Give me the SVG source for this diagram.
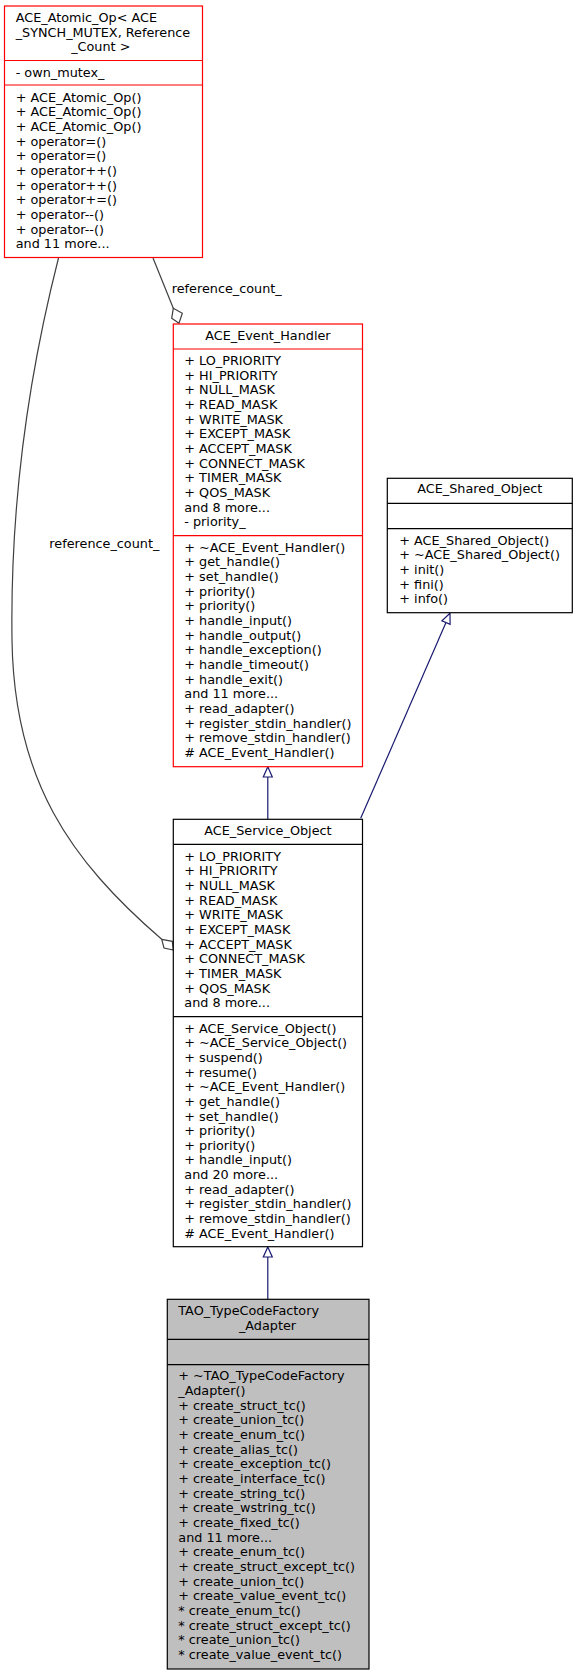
<svg xmlns="http://www.w3.org/2000/svg" width="577" height="1675" viewBox="0 0 577 1675">
<style>
text{font-family:"DejaVu Sans",sans-serif;font-size:12.8px;fill:#000}
.c{text-anchor:middle}
.red{fill:#fff;stroke:#ff0000;stroke-width:1.2}
.blk{fill:#fff;stroke:#000;stroke-width:1.2}
.gry{fill:#bfbfbf;stroke:#000;stroke-width:1.2}
.sepr{stroke:#ff0000;stroke-width:1.2}
.sepk{stroke:#000;stroke-width:1.2}
.inh{fill:none;stroke:#191970;stroke-width:1.2}
.inhh{fill:#fff;stroke:#191970;stroke-width:1.2}
.agg{fill:none;stroke:#404040;stroke-width:1.2}
.aggh{fill:#fff;stroke:#404040;stroke-width:1.2}
</style>
<rect width="577" height="1675" fill="#fff"/>
<g id="edges">
<path class="agg" d="M58.5,258 C30,370 10,500 12,640 C14,780 70,860 161.7,939.3"/>
<polygon class="aggh" points="161.7,939.3 172.3,941.3 173.3,950 164,948"/>
<text x="49.3" y="548.3">reference_count_</text>
<path class="agg" d="M153,258 L173.3,308.3"/>
<polygon class="aggh" points="173.3,308.3 182.3,313.3 179,323.3 171.7,318.3"/>
<text x="171.7" y="293.3">reference_count_</text>
<path class="inh" d="M267.8,777 L267.8,819"/>
<polygon class="inhh" points="267.8,766.7 263.3,777 272.3,777"/>
<path class="inh" d="M360.7,818.3 L446,622.5"/>
<polygon class="inhh" points="450,613.3 441.9,620.7 450.1,624.3"/>
<path class="inh" d="M267.8,1257 L267.8,1299"/>
<polygon class="inhh" points="267.8,1247 263.3,1257 272.3,1257"/>
</g>
<g id="node_atomic_op">
<rect class="red" x="4.5" y="6" width="198" height="251.5"/>
<line class="sepr" x1="4.5" y1="60.5" x2="202.5" y2="60.5"/>
<line class="sepr" x1="4.5" y1="85" x2="202.5" y2="85"/>
<text x="15.7" y="22">ACE_Atomic_Op&lt; ACE</text>
<text x="15.7" y="36.7">_SYNCH_MUTEX, Reference</text>
<text x="100.8" y="51.3" class="c">_Count &gt;</text>
<text x="15.7" y="77.3">- own_mutex_</text>
<text x="15.7" y="101.7">+ ACE_Atomic_Op()</text>
<text x="15.7" y="116.4">+ ACE_Atomic_Op()</text>
<text x="15.7" y="131">+ ACE_Atomic_Op()</text>
<text x="15.7" y="145.7">+ operator=()</text>
<text x="15.7" y="160.3">+ operator=()</text>
<text x="15.7" y="175">+ operator++()</text>
<text x="15.7" y="189.7">+ operator++()</text>
<text x="15.7" y="204.3">+ operator+=()</text>
<text x="15.7" y="219">+ operator--()</text>
<text x="15.7" y="233.6">+ operator--()</text>
<text x="15.7" y="248.3">and 11 more...</text>
</g>
<g id="node_event_handler">
<rect class="red" x="173.3" y="324" width="189.2" height="442.7"/>
<line class="sepr" x1="173.3" y1="349" x2="362.5" y2="349"/>
<line class="sepr" x1="173.3" y1="535.7" x2="362.5" y2="535.7"/>
<text x="267.9" y="340" class="c">ACE_Event_Handler</text>
<text x="184.3" y="365">+ LO_PRIORITY</text>
<text x="184.3" y="379.7">+ HI_PRIORITY</text>
<text x="184.3" y="394.3">+ NULL_MASK</text>
<text x="184.3" y="409">+ READ_MASK</text>
<text x="184.3" y="423.6">+ WRITE_MASK</text>
<text x="184.3" y="438.3">+ EXCEPT_MASK</text>
<text x="184.3" y="453">+ ACCEPT_MASK</text>
<text x="184.3" y="467.6">+ CONNECT_MASK</text>
<text x="184.3" y="482.3">+ TIMER_MASK</text>
<text x="184.3" y="496.9">+ QOS_MASK</text>
<text x="184.3" y="511.6">and 8 more...</text>
<text x="184.3" y="526.3">- priority_</text>
<text x="184.3" y="551.7">+ ~ACE_Event_Handler()</text>
<text x="184.3" y="566.4">+ get_handle()</text>
<text x="184.3" y="581">+ set_handle()</text>
<text x="184.3" y="595.7">+ priority()</text>
<text x="184.3" y="610.3">+ priority()</text>
<text x="184.3" y="625">+ handle_input()</text>
<text x="184.3" y="639.7">+ handle_output()</text>
<text x="184.3" y="654.3">+ handle_exception()</text>
<text x="184.3" y="669">+ handle_timeout()</text>
<text x="184.3" y="683.6">+ handle_exit()</text>
<text x="184.3" y="698.3">and 11 more...</text>
<text x="184.3" y="713">+ read_adapter()</text>
<text x="184.3" y="727.6">+ register_stdin_handler()</text>
<text x="184.3" y="742.3">+ remove_stdin_handler()</text>
<text x="184.3" y="756.9"># ACE_Event_Handler()</text>
</g>
<g id="node_shared_object">
<rect class="blk" x="387.3" y="478.3" width="185" height="134.4"/>
<line class="sepk" x1="387.3" y1="503.3" x2="572.3" y2="503.3"/>
<line class="sepk" x1="387.3" y1="528.7" x2="572.3" y2="528.7"/>
<text x="479.8" y="493.3" class="c">ACE_Shared_Object</text>
<text x="399.3" y="544.5">+ ACE_Shared_Object()</text>
<text x="399.3" y="559.2">+ ~ACE_Shared_Object()</text>
<text x="399.3" y="573.8">+ init()</text>
<text x="399.3" y="588.5">+ fini()</text>
<text x="399.3" y="603.1">+ info()</text>
</g>
<g id="node_service_object">
<rect class="blk" x="173.3" y="819.3" width="189.2" height="427.4"/>
<line class="sepk" x1="173.3" y1="844.3" x2="362.5" y2="844.3"/>
<line class="sepk" x1="173.3" y1="1016.7" x2="362.5" y2="1016.7"/>
<text x="267.9" y="835.3" class="c">ACE_Service_Object</text>
<text x="184.3" y="860.7">+ LO_PRIORITY</text>
<text x="184.3" y="875.4">+ HI_PRIORITY</text>
<text x="184.3" y="890">+ NULL_MASK</text>
<text x="184.3" y="904.7">+ READ_MASK</text>
<text x="184.3" y="919.3">+ WRITE_MASK</text>
<text x="184.3" y="934">+ EXCEPT_MASK</text>
<text x="184.3" y="948.7">+ ACCEPT_MASK</text>
<text x="184.3" y="963.3">+ CONNECT_MASK</text>
<text x="184.3" y="978">+ TIMER_MASK</text>
<text x="184.3" y="992.6">+ QOS_MASK</text>
<text x="184.3" y="1007.3">and 8 more...</text>
<text x="184.3" y="1032.5">+ ACE_Service_Object()</text>
<text x="184.3" y="1047.2">+ ~ACE_Service_Object()</text>
<text x="184.3" y="1061.8">+ suspend()</text>
<text x="184.3" y="1076.5">+ resume()</text>
<text x="184.3" y="1091.1">+ ~ACE_Event_Handler()</text>
<text x="184.3" y="1105.8">+ get_handle()</text>
<text x="184.3" y="1120.5">+ set_handle()</text>
<text x="184.3" y="1135.1">+ priority()</text>
<text x="184.3" y="1149.8">+ priority()</text>
<text x="184.3" y="1164.4">+ handle_input()</text>
<text x="184.3" y="1179.1">and 20 more...</text>
<text x="184.3" y="1193.8">+ read_adapter()</text>
<text x="184.3" y="1208.4">+ register_stdin_handler()</text>
<text x="184.3" y="1223.1">+ remove_stdin_handler()</text>
<text x="184.3" y="1237.7"># ACE_Event_Handler()</text>
</g>
<g id="node_tao_typecodefactory_adapter">
<rect class="gry" x="167.3" y="1299.3" width="201.7" height="369.7"/>
<line class="sepk" x1="167.3" y1="1339.3" x2="369" y2="1339.3"/>
<line class="sepk" x1="167.3" y1="1364.7" x2="369" y2="1364.7"/>
<text x="178.3" y="1315">TAO_TypeCodeFactory</text>
<text x="267.5" y="1329.7" class="c">_Adapter</text>
<text x="178.3" y="1380.3">+ ~TAO_TypeCodeFactory</text>
<text x="178.3" y="1395">_Adapter()</text>
<text x="178.3" y="1409.6">+ create_struct_tc()</text>
<text x="178.3" y="1424.3">+ create_union_tc()</text>
<text x="178.3" y="1438.9">+ create_enum_tc()</text>
<text x="178.3" y="1453.6">+ create_alias_tc()</text>
<text x="178.3" y="1468.3">+ create_exception_tc()</text>
<text x="178.3" y="1482.9">+ create_interface_tc()</text>
<text x="178.3" y="1497.6">+ create_string_tc()</text>
<text x="178.3" y="1512.2">+ create_wstring_tc()</text>
<text x="178.3" y="1526.9">+ create_fixed_tc()</text>
<text x="178.3" y="1541.6">and 11 more...</text>
<text x="178.3" y="1556.2">+ create_enum_tc()</text>
<text x="178.3" y="1570.9">+ create_struct_except_tc()</text>
<text x="178.3" y="1585.5">+ create_union_tc()</text>
<text x="178.3" y="1600.2">+ create_value_event_tc()</text>
<text x="178.3" y="1614.9">* create_enum_tc()</text>
<text x="178.3" y="1629.5">* create_struct_except_tc()</text>
<text x="178.3" y="1644.2">* create_union_tc()</text>
<text x="178.3" y="1658.8">* create_value_event_tc()</text>
</g>
</svg>
